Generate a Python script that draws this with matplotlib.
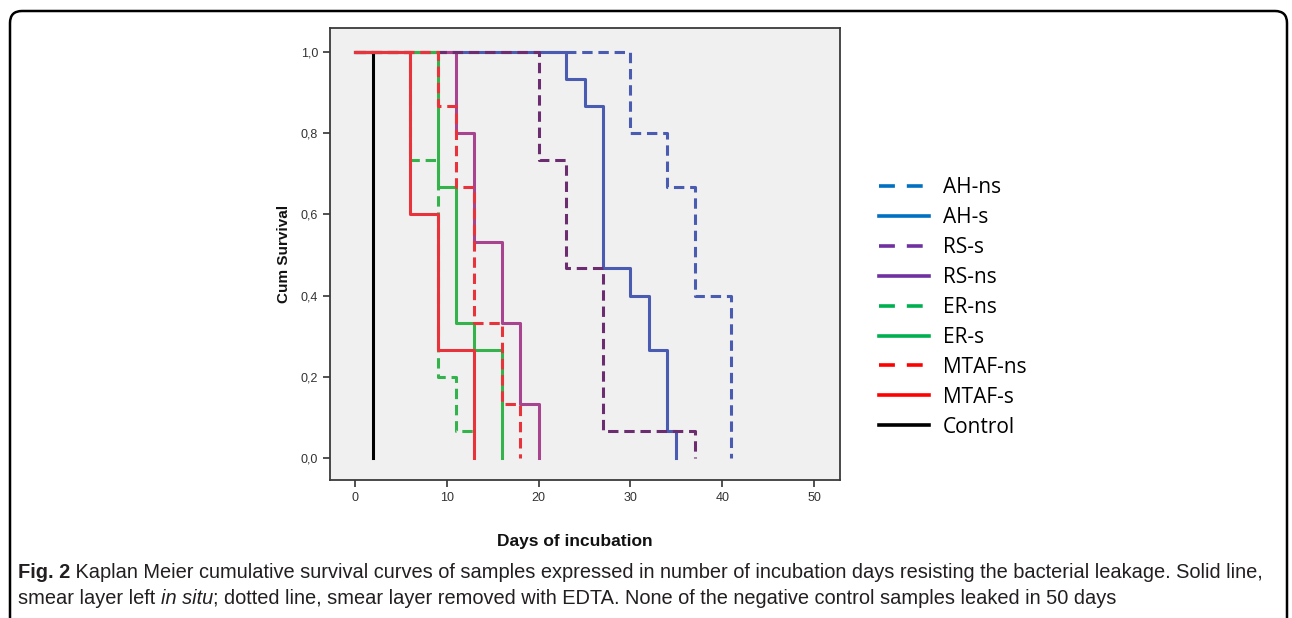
#
# km_leakage.py: Kaplan Meier survival curves for bacterial leakage (Fig. 2)
#
import matplotlib
matplotlib.use('Agg')
import matplotlib.pyplot as plt
from matplotlib.lines import Line2D
from matplotlib.patches import FancyBboxPatch
from matplotlib.transforms import IdentityTransform
from matplotlib import font_manager as fm

# days at which the curve steps, and cumulative survival after each step
ah_ns_days = [0, 30, 34, 37, 41]
ah_ns_surv = [1.0, 0.8, 0.667, 0.4, 0.0]
ah_s_days = [0, 23, 25, 27, 30, 32, 34, 35]
ah_s_surv = [1.0, 0.933, 0.867, 0.467, 0.4, 0.267, 0.067, 0.0]
rs_s_days = [0, 20, 23, 27, 37]
rs_s_surv = [1.0, 0.733, 0.467, 0.067, 0.0]
rs_ns_days = [0, 11, 13, 16, 18, 20]
rs_ns_surv = [1.0, 0.8, 0.533, 0.333, 0.133, 0.0]
er_ns_days = [0, 6, 9, 11, 13]
er_ns_surv = [1.0, 0.733, 0.2, 0.067, 0.067]
er_s_days = [0, 9, 11, 13, 16]
er_s_surv = [1.0, 0.667, 0.333, 0.267, 0.0]
mtaf_ns_days = [0, 9, 11, 13, 16, 18]
mtaf_ns_surv = [1.0, 0.867, 0.667, 0.333, 0.133, 0.0]
mtaf_s_days = [0, 6, 9, 13]
mtaf_s_surv = [1.0, 0.6, 0.267, 0.0]
control_days = [0, 2]
control_surv = [1.0, 0.0]

legend_labels = ['AH-ns', 'AH-s', 'RS-s', 'RS-ns', 'ER-ns', 'ER-s',
                 'MTAF-ns', 'MTAF-s', 'Control']
legend_colors = ['#0070C0', '#0070C0', '#7030A0', '#7030A0', '#00B050',
                 '#00B050', '#FF0000', '#FF0000', '#000000']
legend_dashed = [True, False, True, False, True, False, True, False, False]

x_ticks = [0, 10, 20, 30, 40, 50]
y_ticks = [0.0, 0.2, 0.4, 0.6, 0.8, 1.0]

W, H = 1292, 618
fig = plt.figure(figsize=(W / 100, H / 100), dpi=100)
fig.patch.set_facecolor('white')

# rounded frame round the whole figure
frame = FancyBboxPatch((10, -40), 1277, H - 11 + 40,
                       boxstyle='round,pad=0,rounding_size=12',
                       transform=IdentityTransform(), fill=False,
                       edgecolor='black', linewidth=1.8)
fig.add_artist(frame)

ax = fig.add_axes([330 / W, 1 - 480 / H, 510 / W, 452 / H])
ax.set_facecolor('#F0F0F0')

dash = (0, (3.4, 1.9))
lw = 2.2
ax.step(ah_ns_days, ah_ns_surv, where='post', color='#4A5BB2', lw=lw, linestyle=dash)
ax.step(ah_s_days, ah_s_surv, where='post', color='#4A5BB2', lw=lw)
ax.step(rs_ns_days, rs_ns_surv, where='post', color='#A8438F', lw=lw)
ax.step(rs_s_days, rs_s_surv, where='post', color='#6B2C70', lw=lw, linestyle=dash)
ax.step(er_s_days, er_s_surv, where='post', color='#34B24C', lw=lw)
ax.step(er_ns_days, er_ns_surv, where='post', color='#34B24C', lw=lw, linestyle=dash)
ax.step(mtaf_ns_days, mtaf_ns_surv, where='post', color='#E8333B', lw=lw, linestyle=dash)
ax.step(control_days, control_surv, where='post', color='black', lw=lw)
ax.step(mtaf_s_days, mtaf_s_surv, where='post', color='#E8333B', lw=lw)

ax.set_xlim((330 - 355) / 9.18, (840 - 355) / 9.18)
ax.set_ylim(-22 / 406, 1 + 24 / 406)
ax.set_xticks(x_ticks)
ax.set_yticks(y_ticks)
ax.set_yticklabels([('%.1f' % v).replace('.', ',') for v in y_ticks])
ax.tick_params(axis='both', direction='out', length=5, width=1.2,
               color='#333333', labelcolor='#333333', labelsize=9)
for lab in ax.get_xticklabels() + ax.get_yticklabels():
    lab.set_family('Liberation Sans')
for sp in ax.spines.values():
    sp.set_color('#3A3A3A')
    sp.set_linewidth(1.3)

ax.set_xlabel('Days of incubation', fontsize=12.5, fontweight='bold',
              family='Liberation Sans', color='#111111')
ax.xaxis.set_label_coords((575 - 330) / 510, (480 - 534) / 452)
ax.set_ylabel('Cum Survival', fontsize=11, fontweight='bold',
              family='Liberation Sans', color='#111111')
ax.yaxis.set_label_coords((291 - 330) / 510, 0.5)

# legend drawn beside the plot
handles = []
for c, d in zip(legend_colors, legend_dashed):
    handles.append(Line2D([], [], color=c, lw=2.6,
                          linestyle=(0, (4.4, 3.3)) if d else '-'))
fig.legend(handles, legend_labels, loc='upper left',
           bbox_to_anchor=(879 / W, 1 - 177 / H), frameon=False,
           prop={'family': 'Open Sans', 'size': 15},
           handlelength=2.4, handletextpad=0.68, labelspacing=0.43,
           borderpad=0, borderaxespad=0)

# caption, built from runs of plain, bold and italic text
names = {f.name for f in fm.fontManager.ttflist}
cap_font = 'Liberation Sans Narrow' if 'Liberation Sans Narrow' in names else 'Liberation Sans'
line1 = [('Fig. 2', 'bold', 'normal'),
         (' Kaplan Meier cumulative survival curves of samples expressed in number '
          'of incubation days resisting the bacterial leakage. Solid line,', 'normal', 'normal')]
line2 = [('smear layer left ', 'normal', 'normal'),
         ('in situ', 'normal', 'italic'),
         ('; dotted line, smear layer removed with EDTA. None of the negative '
          'control samples leaked in 50 days', 'normal', 'normal')]

renderer = fig.canvas.get_renderer()


def put_line(runs, y, size):
    x = 18
    for txt, weight, style in runs:
        t = fig.text(x / W, 1 - y / H, txt, fontsize=size, fontweight=weight,
                     fontstyle=style, family=cap_font, color='#231F20',
                     va='baseline', ha='left')
        bb = t.get_window_extent(renderer)
        x = bb.x1
    return x


# fit the first caption line to the width it has in the figure
probe = put_line(line1, 2000, 10)
for t in list(fig.texts):
    t.remove()
size = 10 * (1266 - 18) / (probe - 18)
size = min(size, 15)
put_line(line1, 578, size)
put_line(line2, 604, size)

fig.savefig('out.png', dpi=100)
